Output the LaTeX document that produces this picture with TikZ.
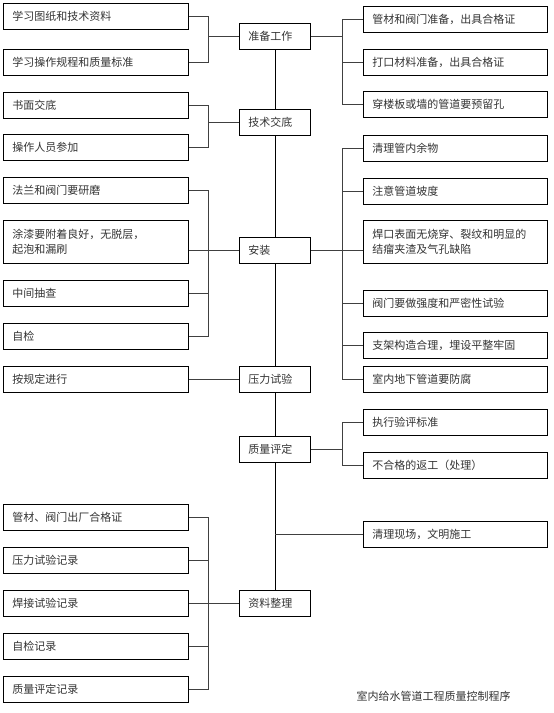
\documentclass[tikz,border=0pt]{standalone}
\usepackage{fontspec}
\setmainfont{Noto Sans CJK SC}
\begin{document}
\begin{tikzpicture}[x=1pt,y=-1pt,
  box/.style={draw,line width=0.9pt,anchor=north west,minimum height=26pt,
    inner xsep=9pt,inner ysep=0pt,align=left,text=black!80,
    font=\fontsize{11}{15}\selectfont},
  lbox/.style={box,minimum width=185pt,text width=167pt},
  mbox/.style={box,minimum width=71pt,text width=53pt},
  rbox/.style={box,minimum width=184pt,text width=166pt},
  tall/.style={minimum height=43pt},
  link/.style={line width=0.7pt,black!75},
  spine/.style={line width=0.9pt}]
\useasboundingbox (0,0) rectangle (554,713);

% bus lines for the brackets
\coordinate (lbus) at (208,0);
\coordinate (rbus) at (342,0);

% middle column
\node[mbox] (m1) at (239,23)  {准备工作};
\node[mbox] (m2) at (239,109) {技术交底};
\node[mbox] (m3) at (239,237) {安装};
\node[mbox] (m4) at (239,366) {压力试验};
\node[mbox] (m5) at (239,436) {质量评定};
\node[mbox] (m6) at (239,590) {资料整理};

% left column
\node[lbox] (l1)  at (3,3)   {学习图纸和技术资料};
\node[lbox] (l2)  at (3,49)  {学习操作规程和质量标准};
\node[lbox] (l3)  at (3,92)  {书面交底};
\node[lbox] (l4)  at (3,134) {操作人员参加};
\node[lbox] (l5)  at (3,177) {法兰和阀门要研磨};
\node[lbox,tall] (l6) at (3,220) {涂漆要附着良好，无脱层，\\起泡和漏刷};
\node[lbox] (l7)  at (3,280) {中间抽查};
\node[lbox] (l8)  at (3,323) {自检};
\node[lbox] (l9)  at (3,366) {按规定进行};
\node[lbox] (l10) at (3,504) {管材、阀门出厂合格证};
\node[lbox] (l11) at (3,547) {压力试验记录};
\node[lbox] (l12) at (3,590) {焊接试验记录};
\node[lbox] (l13) at (3,633) {自检记录};
\node[lbox] (l14) at (3,676) {质量评定记录};

% right column
\node[rbox] (r1)  at (363,6)   {管材和阀门准备，出具合格证};
\node[rbox] (r2)  at (363,49)  {打口材料准备，出具合格证};
\node[rbox] (r3)  at (363,91)  {穿楼板或墙的管道要预留孔};
\node[rbox] (r4)  at (363,135) {清理管内余物};
\node[rbox] (r5)  at (363,178) {注意管道坡度};
\node[rbox,tall] (r6) at (363,220) {焊口表面无烧穿、裂纹和明显的\\结瘤夹渣及气孔缺陷};
\node[rbox] (r7)  at (363,290) {阀门要做强度和严密性试验};
\node[rbox] (r8)  at (363,332) {支架构造合理，埋设平整牢固};
\node[rbox] (r9)  at (363,366) {室内地下管道要防腐};
\node[rbox] (r10) at (363,409) {执行验评标准};
\node[rbox] (r11) at (363,452) {不合格的返工（处理）};
\node[rbox] (r12) at (363,521) {清理现场，文明施工};

\node[anchor=west,text=black!80,font=\fontsize{11}{13}\selectfont] (cap) at (353,696)
  {室内给水管道工程质量控制程序};

% main line
\draw[spine] (m1) -- (m2) -- (m3) -- (m4) -- (m5) -- (m6);

% left brackets
\draw[link] (l1.east) -| (lbus |- l2.east) -- (l2.east);
\draw[link] (m1.west) -- (m1.west -| lbus);
\draw[link] (l3.east) -| (lbus |- l4.east) -- (l4.east);
\draw[link] (m2.west) -- (m2.west -| lbus);
\draw[link] (l5.east) -| (lbus |- l8.east) -- (l8.east);
\draw[link] (l6.east |- m3.west) -- (m3.west);
\draw[link] (l7.east) -- (l7.east -| lbus);
\draw[link] (l9.east) -- (m4.west);
\draw[link] (l10.east) -| (lbus |- l14.east) -- (l14.east);
\draw[link] (l11.east) -- (l11.east -| lbus);
\draw[link] (l12.east) -- (m6.west);
\draw[link] (l13.east) -- (l13.east -| lbus);

% right brackets
\draw[link] (r1.west) -| (rbus |- r3.west) -- (r3.west);
\draw[link] (r2.west) -- (r2.west -| rbus);
\draw[link] (m1.east) -- (m1.east -| rbus);
\draw[link] (r4.west) -| (rbus |- r9.west) -- (r9.west);
\draw[link] (r5.west) -- (r5.west -| rbus);
\draw[link] (m3.east) -- (r6.west |- m3.east);
\draw[link] (r7.west) -- (r7.west -| rbus);
\draw[link] (r8.west) -- (r8.west -| rbus);
\draw[link] (r10.west) -| (rbus |- r11.west) -- (r11.west);
\draw[link] (m5.east) -- (m5.east -| rbus);
\draw[link] (r12.west) -- (r12.west -| m5);
\end{tikzpicture}
\end{document}
